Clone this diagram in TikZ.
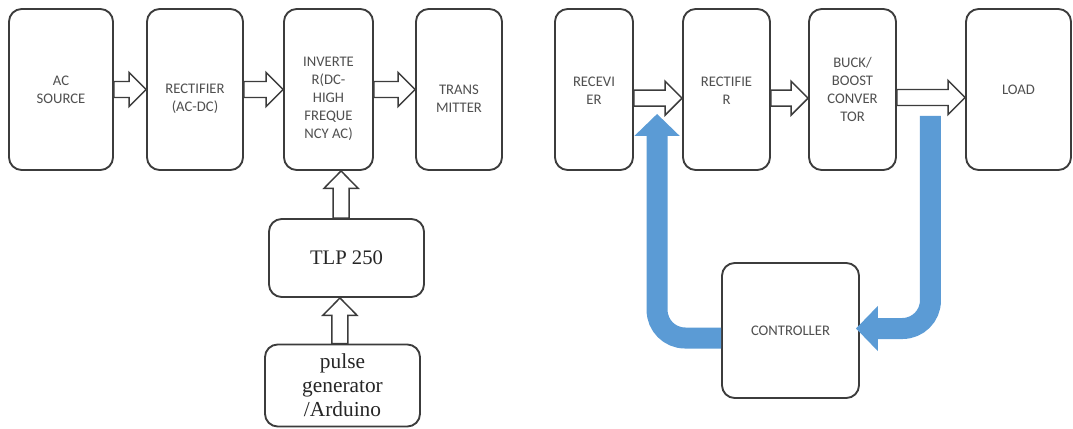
\documentclass[tikz,border=0pt]{standalone}
\usepackage{fontspec}
\setmainfont{Liberation Serif}
\newfontfamily\labfont{Carlito}
\usetikzlibrary{arrows.meta,calc}
\definecolor{edge}{HTML}{3C3C3C}
\definecolor{labgray}{HTML}{505050}
\definecolor{flowblue}{HTML}{5B9BD5}

\tikzset{
  stage/.style={draw=edge, line width=1.4pt, rounded corners=9.5pt, fill=white, inner sep=0pt},
  lab/.style={font=\labfont\fontsize{11}{13.5}\selectfont, text=labgray, align=center, inner sep=0pt},
  serif/.style={font=\fontsize{15.5}{18}\selectfont, text=black!85, align=center, inner sep=0pt},
  % hollow block arrow pointing right, centred on the start point's height
  hollowright/.style={draw=edge, line width=1.1pt, fill=white,
    to path={let \p1=(\tikztostart), \p2=(\tikztotarget) in
      (\x1,\y1+6pt) -- (\x2-12.75pt,\y1+6pt) -- (\x2-12.75pt,\y1+12.75pt) -- (\x2,\y1)
      -- (\x2-12.75pt,\y1-12.75pt) -- (\x2-12.75pt,\y1-6pt) -- (\x1,\y1-6pt) -- cycle}},
  % hollow block arrow pointing up, centred on the start point's x
  hollowup/.style={draw=edge, line width=1.1pt, fill=white,
    to path={let \p1=(\tikztostart), \p2=(\tikztotarget) in
      (\x1-6pt,\y1) -- (\x1-6pt,\y2-13pt) -- (\x1-12.75pt,\y2-13pt) -- (\x1,\y2)
      -- (\x1+12.75pt,\y2-13pt) -- (\x1+6pt,\y2-13pt) -- (\x1+6pt,\y1) -- cycle}},
  % thick blue feedback arrow
  flow/.style={draw=flowblue, line width=15.75pt, rounded corners=21pt,
    -{Triangle[length=16.5pt,width=33pt]}}
}

\begin{document}
\begin{tikzpicture}[x=0.75pt,y=-0.75pt]
\useasboundingbox (0,0) rectangle (1073,428);

% transmitter side
\node[stage, minimum width=104*0.75pt, minimum height=161*0.75pt] (ac)    at (61,89.5)   {};
\node[stage, minimum width=96*0.75pt,  minimum height=161*0.75pt] (rect1) at (195,89.5)  {};
\node[stage, minimum width=89*0.75pt,  minimum height=161*0.75pt] (inv)   at (328.5,89.5){};
\node[stage, minimum width=86*0.75pt,  minimum height=161*0.75pt] (tx)    at (459,89.5)  {};
\node[stage, minimum width=155*0.75pt, minimum height=78*0.75pt]  (tlp)   at (346.5,258) {};
\node[stage, minimum width=155*0.75pt, minimum height=82*0.75pt]  (pulse) at (342.5,385.5){};

% receiver side
\node[stage, minimum width=78*0.75pt,  minimum height=161*0.75pt] (recv)  at (594,89.5)  {};
\node[stage, minimum width=87*0.75pt,  minimum height=161*0.75pt] (rect2) at (726.5,89.5){};
\node[stage, minimum width=87*0.75pt,  minimum height=161*0.75pt] (buck)  at (852.5,89.5){};
\node[stage, minimum width=105*0.75pt, minimum height=161*0.75pt] (load)  at (1018.5,89.5){};
\node[stage, minimum width=137*0.75pt, minimum height=135*0.75pt] (ctrl)  at (790.5,330.5){};

% labels
\node[lab] (tac)    at (ac.center) {AC\\SOURCE};
\node[lab] (trect1) at ([yshift=-7pt]rect1.center) {RECTIFIER\\(AC-DC)};
\node[lab] (tinv)   at ([yshift=-7pt]inv.center) {INVERTE\\R(DC-\\HIGH\\FREQUE\\NCY AC)};
\node[lab] (ttx)    at ([yshift=-7pt]tx.center) {TRANS\\MITTER};
\node[lab] (trecv)  at ([yshift=-1pt]recv.center) {RECEVI\\ER};
\node[lab] (trect2) at ([yshift=-1pt]rect2.center) {RECTIFIE\\R};
\node[lab] (tbuck)  at (buck.center) {BUCK/\\BOOST\\CONVER\\TOR};
\node[lab] (tload)  at (load.center) {LOAD};
\node[lab] (tctrl)  at (ctrl.center) {CONTROLLER};
\node[serif] (ttlp)   at (tlp.center) {TLP 250};
\node[serif, font=\fontsize{16}{18}\selectfont] (tpulse) at (pulse.center) {pulse\\generator\\/Arduino};

% power path arrows
\draw[hollowright] (ac.east) to (rect1.west);
\draw[hollowright] (rect1.east) to (inv.west);
\draw[hollowright] (inv.east) to (tx.west);
\draw[hollowright] ([yshift=-6.5pt]recv.east) to ([yshift=-6.5pt]rect2.west);
\draw[hollowright] ([yshift=-6.5pt]rect2.east) to ([yshift=-6.5pt]buck.west);
\draw[hollowright] ([yshift=-6pt]buck.east) to ([yshift=-6pt]load.west);
\draw[hollowup] ([xshift=-4.1pt]tlp.north) to (inv.south);
\draw[hollowup] ([xshift=-1.9pt]pulse.north) to (tlp.south);

% feedback loop through the controller
\path (ctrl.west) ++(0,7.5) coordinate (fbout);
\path (rect2.south west) ++(-25,-57) coordinate (fbtip);
\path (buck.south east) ++(33.5,-55) coordinate (fbtop);
\path (ctrl.east) ++(-4,-2) coordinate (fbin);
\draw[flow] (fbout) -| (fbtip);
\draw[flow] (fbtop) |- (fbin);
\end{tikzpicture}
\end{document}
